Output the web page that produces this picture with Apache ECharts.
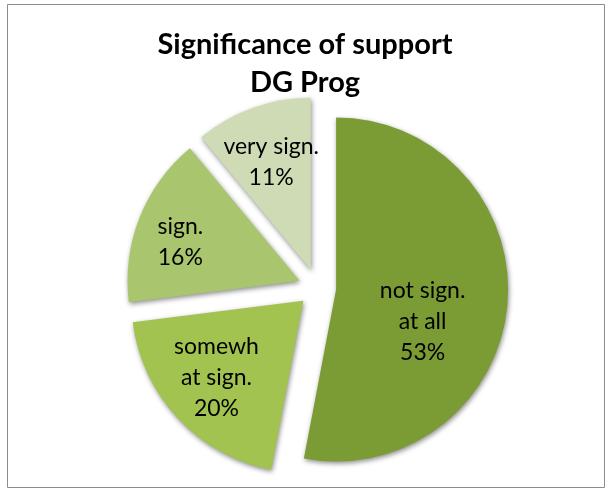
<!DOCTYPE html>
<html>
<head>
<meta charset="utf-8">
<script src="https://cdn.jsdelivr.net/npm/echarts@6/dist/echarts.min.js"></script>
<style>html,body{margin:0;padding:0;background:#fff}#c{width:610px;height:491px}</style>
</head>
<body>
<div id="c"></div>
<script>
var titleText = 'Significance of support\nDG Prog';
var categories = ['not sign.\nat all', 'somewh\nat sign.', 'sign.', 'very sign.'];
var values = [53, 20, 16, 11];
var colors = ['#7b9b34', '#a2c34f', '#a9c66f', '#cfdbb5'];
var labelShifts = [[-24, 22], [-6, 1], [-16, 2], [-2, -3]];

var chart = echarts.init(document.getElementById('c'), null, {renderer: 'canvas'});
var pieData = categories.map(function (c, i) {
  return {name: c, value: values[i], selected: true, itemStyle: {color: colors[i]}};
});
var labelData = categories.map(function (c, i) {
  return {name: c, value: values[i], selected: true};
});
var center = ['52%', '58.6%'];
chart.setOption({
  animation: false,
  backgroundColor: '#fff',
  title: {
    text: titleText,
    left: 'center',
    top: 21,
    padding: [5, 5, 5, 17],
    textStyle: {fontFamily: 'Lato', fontWeight: 'bold', fontSize: 29, lineHeight: 38, color: '#000'}
  },
  graphic: [{
    type: 'rect', shape: {x: 7.5, y: 4.5, width: 597, height: 483},
    style: {fill: 'none', stroke: '#8c8c8c', lineWidth: 1}, silent: true, z: -1
  }],
  series: [{
    type: 'pie',
    center: center,
    radius: [0, 172],
    startAngle: 90,
    clockwise: true,
    selectedMode: 'multiple',
    selectedOffset: 19,
    avoidLabelOverlap: false,
    label: {show: false},
    labelLine: {show: false},
    emphasis: {disabled: true},
    itemStyle: {shadowBlur: 5, shadowColor: 'rgba(0,0,0,0.45)', shadowOffsetX: 1, shadowOffsetY: 2},
    data: pieData
  }, {
    type: 'pie',
    center: center,
    radius: [0, 216],
    startAngle: 90,
    clockwise: true,
    selectedMode: 'multiple',
    selectedOffset: 19,
    silent: true,
    avoidLabelOverlap: false,
    itemStyle: {color: 'rgba(0,0,0,0)'},
    label: {
      show: true, position: 'inside',
      formatter: function (p) { return p.name + '\n' + p.value + '%'; },
      fontFamily: 'Lato', fontSize: 23, lineHeight: 31, color: '#000'
    },
    labelLayout: function (p) {
      var s = labelShifts[p.dataIndex] || [0, 0];
      return {dx: s[0], dy: s[1]};
    },
    labelLine: {show: false},
    emphasis: {disabled: true},
    data: labelData
  }]
});
</script>
</body>
</html>
